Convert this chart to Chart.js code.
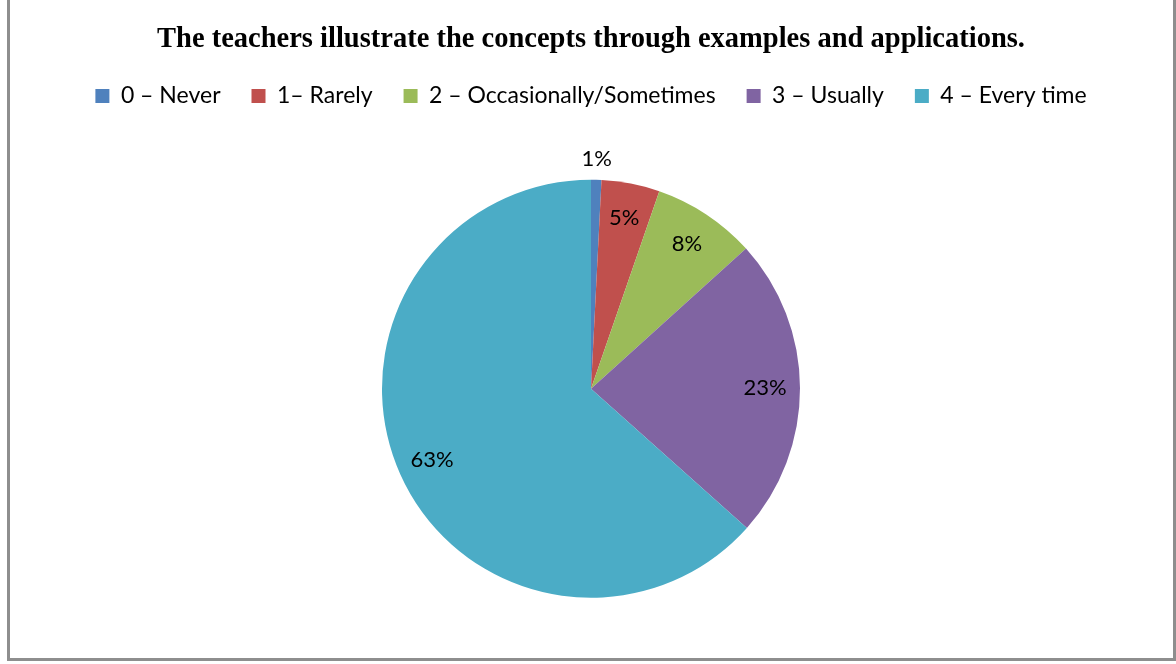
<!DOCTYPE html>
<html>
<head>
<meta charset="utf-8">
<script src="https://cdn.jsdelivr.net/npm/chart.js@4.4.1/dist/chart.umd.min.js"></script>
<style>
html,body{margin:0;padding:0;background:#fff;}
#wrap{position:relative;width:1176px;height:664px;overflow:hidden;}
#frame{position:absolute;left:7px;top:-5px;width:1163px;height:660px;border:3px solid #8e8e8e;pointer-events:none;box-sizing:content-box;}
canvas{display:block;}
</style>
</head>
<body>
<div id="wrap">
<canvas id="c" width="1176" height="664"></canvas>
<div id="frame"></div>
</div>
<script>
const titleText = "The teachers illustrate the concepts through examples and applications.";
const categories = ["0 – Never", "1– Rarely", "2 – Occasionally/Sometimes", "3 – Usually", "4 – Every time"];
const shares = [0.8, 4.5, 8.0, 23.3, 63.4];
const colors = ["#4F81BD", "#C0504D", "#9BBB59", "#8064A2", "#4BACC6"];

const labelPlugin = {
  id: 'pctLabels',
  afterDatasetsDraw(chart) {
    const ctx = chart.ctx;
    const meta = chart.getDatasetMeta(0);
    const data = chart.data.datasets[0].data;
    const total = data.reduce((a, b) => a + b, 0);
    ctx.save();
    ctx.font = '22px Lato, "Open Sans", sans-serif';
    ctx.fillStyle = '#000';
    ctx.textAlign = 'center';
    ctx.textBaseline = 'middle';
    meta.data.forEach((arc, i) => {
      const p = arc.getProps(['x', 'y', 'startAngle', 'endAngle', 'outerRadius'], true);
      const mid = (p.startAngle + p.endAngle) / 2;
      const pct = data[i] / total * 100;
      const r = pct < 2 ? p.outerRadius + 21 : p.outerRadius * 0.833;
      const x = p.x + Math.cos(mid) * r;
      const y = p.y + Math.sin(mid) * r;
      ctx.fillText(Math.round(pct) + '%', x, y);
    });
    ctx.restore();
  }
};

new Chart(document.getElementById('c'), {
  type: 'pie',
  data: {
    labels: categories,
    datasets: [{
      data: shares,
      backgroundColor: colors,
      borderWidth: 0,
      radius: 209
    }]
  },
  options: {
    responsive: false,
    animation: false,
    layout: { padding: { top: 0, bottom: 4, left: 6, right: 0 } },
    plugins: {
      tooltip: { enabled: false },
      title: {
        display: true,
        text: titleText,
        color: '#000',
        font: { family: '"Liberation Serif", "Times New Roman", serif', size: 28.5, weight: 'bold', lineHeight: 1.0 },
        padding: { top: 25, bottom: 0 }
      },
      legend: {
        display: true,
        position: 'top',
        labels: {
          color: '#000',
          font: { family: 'Lato, "Open Sans", sans-serif', size: 23 },
          boxWidth: 14,
          boxHeight: 14,
          padding: 31
        }
      }
    }
  },
  plugins: [labelPlugin]
});
</script>
</body>
</html>
